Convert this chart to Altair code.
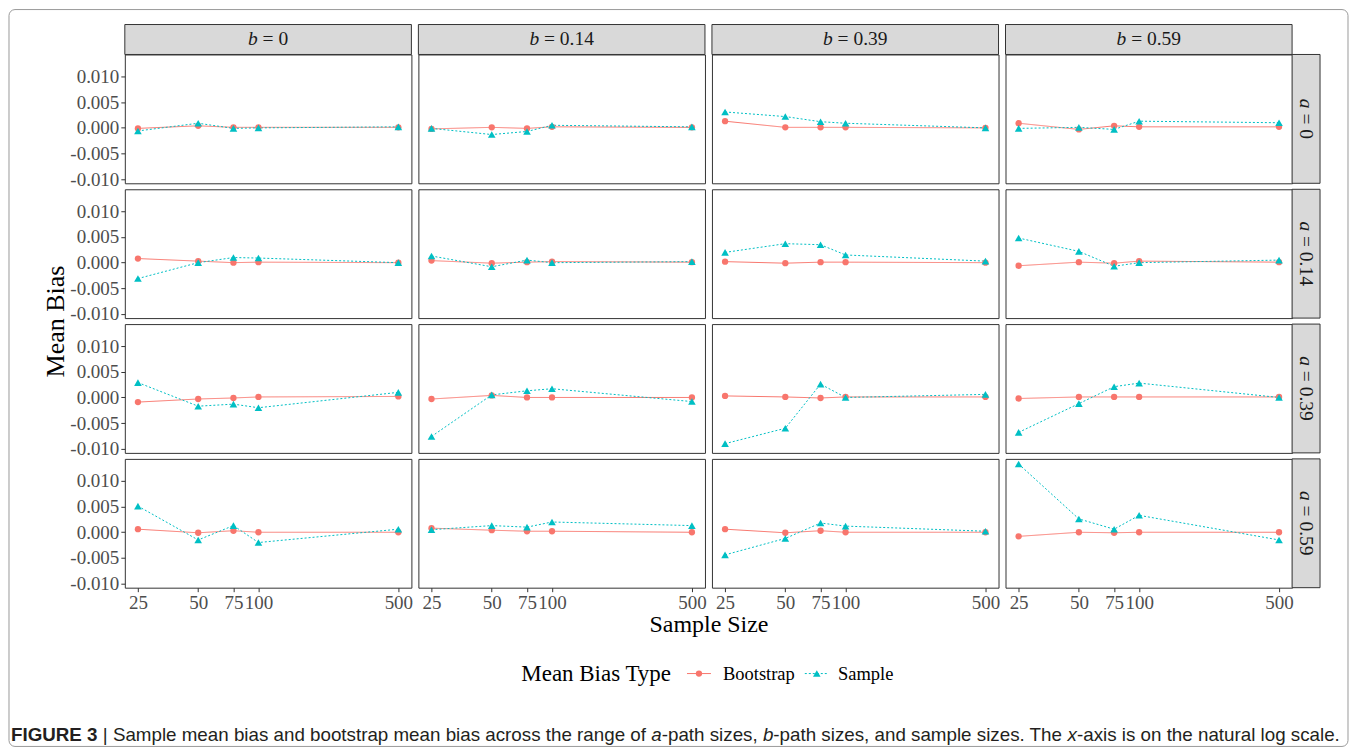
import altair as alt
import pandas as pd

# ---------------- data ----------------
sizes = [25, 50, 75, 100, 500]
a_levels = ["0", "0.14", "0.39", "0.59"]
b_levels = ["0", "0.14", "0.39", "0.59"]
types = ["Bootstrap", "Sample"]

# each list: one row per b level (0, 0.14, 0.39, 0.59), values at sizes 25,50,75,100,500
boot_a0 = [
    [-0.0001, 0.0004, 0.0001, 0.0001, 0.0001],
    [-0.0002, 0.0001, -0.0001, 0.0002, 0.0001],
    [0.0013, 0.0001, 0.0001, 0.0001, 0.0000],
    [0.0009, -0.0003, 0.0004, 0.0002, 0.0002],
]
samp_a0 = [
    [-0.0006, 0.0009, -0.0001, 0.0000, 0.0002],
    [-0.0001, -0.0013, -0.0007, 0.0005, 0.0002],
    [0.0031, 0.0022, 0.0012, 0.0009, 0.0000],
    [-0.0001, 0.0001, -0.0003, 0.0013, 0.0010],
]
boot_a014 = [
    [0.0008, 0.0003, 0.0000, 0.0001, 0.0000],
    [0.0004, -0.0001, 0.0001, 0.0002, 0.0001],
    [0.0002, -0.0001, 0.0001, 0.0001, 0.0000],
    [-0.0006, 0.0001, -0.0001, 0.0003, 0.0001],
]
samp_a014 = [
    [-0.0031, 0.0000, 0.0010, 0.0009, 0.0000],
    [0.0013, -0.0008, 0.0005, 0.0000, 0.0002],
    [0.0020, 0.0037, 0.0035, 0.0015, 0.0003],
    [0.0048, 0.0022, -0.0007, 0.0000, 0.0005],
]
boot_a039 = [
    [-0.0009, -0.0003, -0.0001, 0.0001, 0.0002],
    [-0.0003, 0.0004, 0.0000, 0.0000, 0.0000],
    [0.0003, 0.0001, -0.0001, 0.0001, 0.0001],
    [-0.0002, 0.0001, 0.0001, 0.0001, 0.0001],
]
samp_a039 = [
    [0.0029, -0.0017, -0.0013, -0.0020, 0.0010],
    [-0.0076, 0.0005, 0.0013, 0.0017, -0.0008],
    [-0.0090, -0.0060, 0.0026, 0.0000, 0.0006],
    [-0.0068, -0.0012, 0.0021, 0.0028, 0.0000],
]
boot_a059 = [
    [0.0006, -0.0001, 0.0003, 0.0000, 0.0000],
    [0.0008, 0.0004, 0.0002, 0.0002, 0.0000],
    [0.0006, -0.0001, 0.0003, 0.0000, 0.0000],
    [-0.0008, 0.0000, -0.0001, 0.0000, 0.0000],
]
samp_a059 = [
    [0.0051, -0.0015, 0.0013, -0.0020, 0.0006],
    [0.0005, 0.0013, 0.0010, 0.0020, 0.0013],
    [-0.0044, -0.0012, 0.0018, 0.0012, 0.0002],
    [0.0133, 0.0026, 0.0006, 0.0033, -0.0015],
]

boot_all = [boot_a0, boot_a014, boot_a039, boot_a059]
samp_all = [samp_a0, samp_a014, samp_a039, samp_a059]

rows = []
for ai, a in enumerate(a_levels):
    for bi, b in enumerate(b_levels):
        for k, n in enumerate(sizes):
            rows.append({"a": a, "b": b, "n": n, "type": "Bootstrap", "bias": boot_all[ai][bi][k]})
            rows.append({"a": a, "b": b, "n": n, "type": "Sample", "bias": samp_all[ai][bi][k]})
df = pd.DataFrame(rows)
one = pd.DataFrame({"k": [0]})

# ---------------- styling ----------------
SERIF = "Liberation Serif"
SANS = "Liberation Sans"
W, H = 287, 129
COLSP, ROWSP = 7, 6
STRIP = 30
RSTRIP = 28
STRIP_FS = 19.5
TICK_FS = 19
colors = ["#F8766D", "#00BFC4"]

# Times (Liberation Serif) advance widths, per 1000 em
TIMES = {" ": 250, "=": 564, ".": 250, "0": 500, "1": 500, "3": 500, "4": 500,
         "5": 500, "9": 500, "a": 500, "b": 500}
# Arial (Liberation Sans) advance widths, per 1000 em
ARIAL = {" ": 278, "|": 260, "-": 333, ",": 278, ".": 278, "3": 556,
         "A": 667, "E": 667, "F": 611, "G": 778, "I": 278, "R": 722, "S": 667,
         "T": 611, "U": 722,
         "a": 556, "b": 556, "c": 500, "d": 556, "e": 556, "f": 278, "g": 556,
         "h": 556, "i": 222, "k": 500, "l": 222, "m": 833, "n": 556, "o": 556,
         "p": 556, "r": 333, "s": 500, "t": 278, "u": 556, "v": 500, "w": 722,
         "x": 500, "y": 500, "z": 500}


def tw(s, size, table):
    return sum(table.get(ch, 500) for ch in s) * size / 1000.0


xscale = alt.Scale(type="log", domain=[21.5, 581], nice=False)
yscale = alt.Scale(domain=[-0.0108, 0.0143], nice=False, zero=False)
cscale = alt.Scale(domain=types, range=colors)


def strip_label(letter, value, cx, cy, size, rotated):
    rest = " = " + value
    w_letter = tw(letter, size, TIMES)
    total = w_letter + tw(rest, size, TIMES)
    start = -total / 2.0
    common = dict(font=SERIF, fontSize=size, baseline="middle", color="#1A1A1A", align="left")
    if rotated:
        t1 = alt.Chart(one).mark_text(text=letter, fontStyle="italic", angle=90, **common).encode(
            x=alt.value(cx), y=alt.value(cy + start))
        t2 = alt.Chart(one).mark_text(text="= " + value, angle=90, **common).encode(
            x=alt.value(cx), y=alt.value(cy + start + w_letter + tw(" ", size, TIMES)))
    else:
        t1 = alt.Chart(one).mark_text(text=letter, fontStyle="italic", **common).encode(
            x=alt.value(cx + start), y=alt.value(cy))
        t2 = alt.Chart(one).mark_text(text="= " + value, **common).encode(
            x=alt.value(cx + start + w_letter + tw(" ", size, TIMES)), y=alt.value(cy))
    return [t1, t2]


def y_axis(with_title):
    kw = dict(values=[-0.01, -0.005, 0.0, 0.005, 0.01],
              labelExpr="replace(format(datum.value, '.3f'), '\u2212', '-')",
              tickSize=4, tickColor="#333333", labelPadding=2,
              labelFont=SERIF, labelFontSize=TICK_FS, labelColor="#4D4D4D",
              grid=False, domain=False)
    if with_title:
        kw.update(title="Mean Bias", titleFont=SERIF, titleFontSize=26, titleFontWeight="normal",
                  titleColor="#000000", titleX=-69, titleY=H + ROWSP / 2.0, titleBaseline="middle",
                  titleAngle=270)
    else:
        kw.update(title=None)
    return alt.Axis(**kw)


def x_axis(with_title):
    kw = dict(values=sizes, format="d", labelFlush=False, labelOverlap=False, labelBound=False,
              tickSize=4, tickColor="#333333", labelPadding=2,
              labelFont=SERIF, labelFontSize=TICK_FS, labelColor="#4D4D4D",
              grid=False, domain=False)
    if with_title:
        kw.update(title="Sample Size", titleFont=SERIF, titleFontSize=24, titleFontWeight="normal",
                  titleColor="#000000", titleX=W + COLSP / 2.0, titleY=37, titleBaseline="middle")
    else:
        kw.update(title=None)
    return alt.Axis(**kw)


def legend_and_caption():
    layers = []
    # border around the whole figure, relative to this panel's origin
    layers.append(alt.Chart(one).mark_rect(fill="#ffffff", fillOpacity=0, stroke="#9A9A9A",
                                           strokeWidth=1, cornerRadius=6).encode(
        x=alt.value(-116), x2=alt.value(1225), y=alt.value(-450), y2=alt.value(288)))
    ly = 215
    layers.append(alt.Chart(one).mark_text(text="Mean Bias Type", font=SERIF, fontSize=23,
                                           align="center", baseline="middle", color="#000000").encode(
        x=alt.value(472), y=alt.value(ly)))
    layers.append(alt.Chart(one).mark_rule(color=colors[0], strokeWidth=1).encode(
        x=alt.value(563), x2=alt.value(587), y=alt.value(ly), y2=alt.value(ly)))
    layers.append(alt.Chart(one).mark_point(shape="circle", filled=True, opacity=1, size=40,
                                            color=colors[0]).encode(x=alt.value(575), y=alt.value(ly)))
    layers.append(alt.Chart(one).mark_text(text="Bootstrap", font=SERIF, fontSize=18.5,
                                           align="center", baseline="middle", color="#000000").encode(
        x=alt.value(635), y=alt.value(ly)))
    layers.append(alt.Chart(one).mark_rule(color=colors[1], strokeWidth=1, strokeDash=[2, 2]).encode(
        x=alt.value(681), x2=alt.value(705), y=alt.value(ly), y2=alt.value(ly)))
    layers.append(alt.Chart(one).mark_point(shape="triangle-up", filled=True, opacity=1, size=58,
                                            color=colors[1]).encode(x=alt.value(693), y=alt.value(ly)))
    layers.append(alt.Chart(one).mark_text(text="Sample", font=SERIF, fontSize=18.5,
                                           align="center", baseline="middle", color="#000000").encode(
        x=alt.value(742), y=alt.value(ly)))

    # caption, drawn as consecutive segments
    cap_size = 18.8
    segs = [("FIGURE 3", "bold", "normal"),
            (" | Sample mean bias and bootstrap mean bias across the range of ", "normal", "normal"),
            ("a", "normal", "italic"),
            ("-path sizes, ", "normal", "normal"),
            ("b", "normal", "italic"),
            ("-path sizes, and sample sizes. The ", "normal", "normal"),
            ("x", "normal", "italic"),
            ("-axis is on the natural log scale.", "normal", "normal")]
    cx = -114.0
    cy = 277
    for text, weight, style in segs:
        lead = len(text) - len(text.lstrip(" "))
        draw_x = cx + tw(" " * lead, cap_size, ARIAL)
        layers.append(alt.Chart(one).mark_text(text=text.strip(" "), font=SANS, fontSize=cap_size,
                                               fontWeight=weight, fontStyle=style, align="left",
                                               baseline="middle", color="#231F20").encode(
            x=alt.value(draw_x), y=alt.value(cy)))
        cx += tw(text, cap_size, ARIAL)
    return layers


def make_panel(ai, bi):
    d = df[(df["a"] == a_levels[ai]) & (df["b"] == b_levels[bi])]
    xaxis = x_axis(ai == 3 and bi == 1) if ai == 3 else None
    yaxis = y_axis(ai == 1 and bi == 0) if bi == 0 else None
    base = alt.Chart(d).encode(
        x=alt.X("n:Q", scale=xscale, axis=xaxis),
        y=alt.Y("bias:Q", scale=yscale, axis=yaxis),
        color=alt.Color("type:N", scale=cscale, legend=None),
    )
    lines = base.mark_line(strokeWidth=1).encode(
        strokeDash=alt.StrokeDash("type:N", scale=alt.Scale(domain=types, range=[[1, 0], [2, 2]]), legend=None))
    pts = base.mark_point(filled=True, opacity=1).encode(
        shape=alt.Shape("type:N", scale=alt.Scale(domain=types, range=["circle", "triangle-up"]), legend=None),
        size=alt.Size("type:N", scale=alt.Scale(domain=types, range=[40, 58]), legend=None),
    )
    layers = []
    if ai == 3 and bi == 0:
        layers += legend_and_caption()
    layers += [lines, pts]
    if ai == 0:
        layers.append(alt.Chart(one).mark_rect(fill="#D9D9D9", stroke="#333333", strokeWidth=1).encode(
            x=alt.value(0), x2=alt.value(W), y=alt.value(-STRIP), y2=alt.value(0)))
        layers += strip_label("b", b_levels[bi], W / 2.0, -STRIP / 2.0, STRIP_FS, False)
    if bi == 3:
        layers.append(alt.Chart(one).mark_rect(fill="#D9D9D9", stroke="#333333", strokeWidth=1).encode(
            x=alt.value(W), x2=alt.value(W + RSTRIP), y=alt.value(0), y2=alt.value(H)))
        layers += strip_label("a", a_levels[ai], W + RSTRIP / 2.0, H / 2.0, STRIP_FS, True)
    return alt.layer(*layers).properties(width=W, height=H)


panels = [make_panel(ai, bi) for ai in range(4) for bi in range(4)]

chart = alt.concat(*panels, columns=4, spacing={"row": ROWSP, "column": COLSP},
                   bounds="flush").properties(padding=0).configure_view(
    stroke="#333333", strokeWidth=1).configure_axis(grid=False)

chart.save("out.html", embed_options={"renderer": "svg", "actions": False})
